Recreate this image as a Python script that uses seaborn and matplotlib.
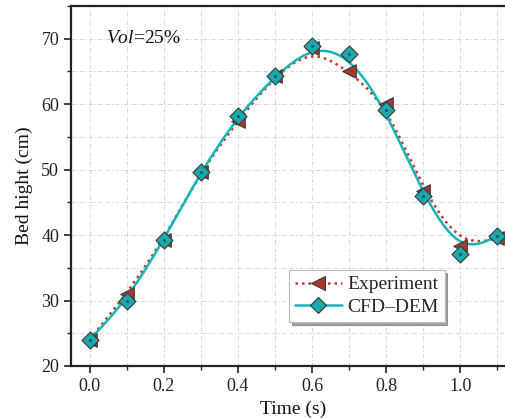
import numpy as np
import pandas as pd
import matplotlib
matplotlib.use("Agg")
import matplotlib.pyplot as plt
from matplotlib.lines import Line2D
from matplotlib.ticker import MultipleLocator
import seaborn as sns

# ---- data ----
time_s = [0.0, 0.1, 0.2, 0.3, 0.4, 0.5, 0.6, 0.7, 0.8, 0.9, 1.0, 1.1]
experiment = [24.0, 31.0, 39.3, 49.7, 57.5, 64.3, 68.6, 65.0, 60.0, 46.8, 38.3, 39.5]
cfd_dem = [24.0, 30.0, 39.2, 49.7, 58.2, 64.3, 68.9, 67.6, 59.1, 46.0, 37.1, 39.9]
series_names = ["Experiment", "CFD\u2013DEM"]

sns.set_theme(style="ticks")
plt.rcParams["font.family"] = ["Liberation Serif", "DejaVu Serif"]
plt.rcParams["mathtext.fontset"] = "custom"
plt.rcParams["mathtext.rm"] = "Liberation Serif"
plt.rcParams["mathtext.it"] = "Liberation Serif:italic"


def bspline(xs, ys, n=40):
    """Clamped uniform cubic B-spline using the data as control points."""
    P = np.column_stack([xs, ys]).astype(float)
    Q = np.vstack([P[0], P[0], P, P[-1], P[-1]])
    t = np.linspace(0, 1, n)
    b0 = (1 - t) ** 3 / 6
    b1 = (3 * t**3 - 6 * t**2 + 4) / 6
    b2 = (-3 * t**3 + 3 * t**2 + 3 * t + 1) / 6
    b3 = t**3 / 6
    pts = []
    for i in range(len(Q) - 3):
        seg = (np.outer(b0, Q[i]) + np.outer(b1, Q[i + 1])
               + np.outer(b2, Q[i + 2]) + np.outer(b3, Q[i + 3]))
        pts.append(seg)
    pts = np.vstack(pts)
    return pts[:, 0], pts[:, 1]


fig = plt.figure(figsize=(5.06, 4.18), dpi=100)
ax = fig.add_axes([71 / 506, 1 - 366 / 418, 445 / 506, 360 / 418])

exp_color = "#c0392b"
exp_marker = "#a8382d"
cfd_color = "#17b5b8"
cfd_marker = "#1aa8ad"
edge = "#3a3a3a"

ex, ey = bspline(time_s, experiment)
cx, cy = bspline(time_s, cfd_dem)
df_exp = pd.DataFrame({"t": ex, "h": ey})
df_cfd = pd.DataFrame({"t": cx, "h": cy})

sns.lineplot(data=df_exp, x="t", y="h", sort=False, estimator=None, ax=ax,
             color=exp_color, lw=1.8, linestyle=(0, (1, 1.6)), zorder=3)
sns.lineplot(data=df_cfd, x="t", y="h", sort=False, estimator=None, ax=ax,
             color=cfd_color, lw=1.8, zorder=4)
sns.scatterplot(x=time_s, y=experiment, ax=ax, marker="<", s=95,
                color=exp_marker, edgecolor=edge, linewidth=0.8, zorder=5)
sns.scatterplot(x=time_s, y=cfd_dem, ax=ax, marker="D", s=75,
                color=cfd_marker, edgecolor=edge, linewidth=0.8, zorder=6)
# tiny center dots in diamonds
ax.scatter(time_s, cfd_dem, s=1.5, color="#0b5f62", zorder=7)

ax.set_xlim(-0.05, 1.15)
ax.set_ylim(20, 75)
ax.xaxis.set_major_locator(MultipleLocator(0.2))
ax.xaxis.set_minor_locator(MultipleLocator(0.1))
ax.yaxis.set_major_locator(MultipleLocator(10))
ax.yaxis.set_minor_locator(MultipleLocator(5))
ax.set_xticks([0.0, 0.2, 0.4, 0.6, 0.8, 1.0])
ax.set_xticklabels(["0.0", "0.2", "0.4", "0.6", "0.8", "1.0"])

grid_kw = dict(color="#d4d4d4", linestyle=(0, (4, 2, 1, 2)), linewidth=0.7)
ax.grid(True, which="major", **grid_kw)
ax.xaxis.grid(True, which="minor", **grid_kw)
ax.yaxis.grid(True, which="minor", **grid_kw)
ax.set_axisbelow(True)

for sp in ax.spines.values():
    sp.set_linewidth(1.6)
    sp.set_color("#222222")
ax.tick_params(which="major", direction="out", length=5, width=1.2,
               labelsize=13, colors="#222222")
ax.tick_params(which="minor", direction="out", length=3, width=1.0,
               colors="#222222")
ax.tick_params(axis="both", which="both", labelcolor="#222222")

ax.set_xlabel("Time (s)", fontsize=14, color="#111111", labelpad=4)
ax.set_ylabel("Bed hight (cm)", fontsize=14, color="#111111", labelpad=6)

ax.text(0.045, 70, r"$\mathit{Vol}$=25%", fontsize=14, color="#111111",
        va="center", ha="left")

handles = [
    Line2D([], [], color=exp_color, lw=1.8, linestyle=(0, (1, 1.6)),
           marker="<", markersize=10, markerfacecolor=exp_marker,
           markeredgecolor=edge, markeredgewidth=0.8),
    Line2D([], [], color=cfd_color, lw=1.8, marker="D", markersize=8,
           markerfacecolor=cfd_marker, markeredgecolor=edge,
           markeredgewidth=0.8),
]
leg = ax.legend(handles, series_names, loc="upper left",
                bbox_to_anchor=((289 - 71) / 445, (366 - 270) / 360),
                fontsize=14, frameon=True, fancybox=False, shadow=True,
                edgecolor="#bbbbbb", handlelength=2.4, handletextpad=0.3,
                borderpad=0.3, labelspacing=0.25, borderaxespad=0)
leg.get_frame().set_linewidth(0.8)

fig.savefig("out.png", dpi=100)
